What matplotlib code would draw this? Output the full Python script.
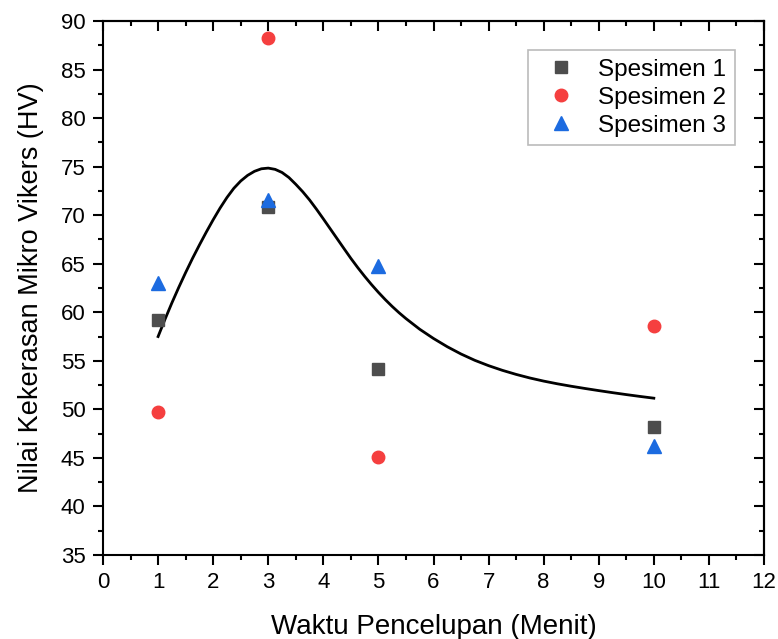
import numpy as np
import matplotlib.pyplot as plt
from matplotlib.ticker import MultipleLocator

plt.rcParams['font.family'] = ['Liberation Sans', 'DejaVu Sans']

# measured hardness per specimen
waktu = [1, 3, 5, 10]
spesimen_1 = [59.2, 70.8, 54.2, 48.2]
spesimen_2 = [49.7, 88.2, 45.1, 58.6]
spesimen_3 = [63.0, 71.6, 64.8, 46.2]

# fitted curve
fit_x = [1.0, 1.125, 1.25, 1.375, 1.5, 1.625, 1.75, 1.875, 2.0, 2.125, 2.25, 2.375,
         2.5, 2.625, 2.75, 2.875, 3.0, 3.125, 3.25, 3.375, 3.5, 3.625, 3.75, 3.875,
         4.0, 4.125, 4.25, 4.375, 4.5, 4.625, 4.75, 4.875, 5.0, 5.125, 5.25, 5.375,
         5.5, 5.75, 6.0, 6.25, 6.5, 6.75, 7.0, 7.25, 7.5, 7.75, 8.0, 8.25, 8.5,
         8.75, 9.0, 9.25, 9.5, 9.75, 10.0]
fit_y = [57.5, 59.27, 60.96, 62.56, 64.09, 65.55, 66.93, 68.26, 69.53, 70.73, 71.82, 72.77,
         73.52, 74.1, 74.52, 74.78, 74.85, 74.72, 74.4, 73.88, 73.18, 72.42, 71.57, 70.62,
         69.62, 68.6, 67.58, 66.56, 65.55, 64.6, 63.7, 62.85, 62.05, 61.3, 60.6, 59.95,
         59.35, 58.25, 57.3, 56.45, 55.7, 55.05, 54.5, 54.02, 53.6, 53.23, 52.91, 52.63, 52.38,
         52.15, 51.93, 51.72, 51.52, 51.33, 51.15]

fig = plt.figure(figsize=(7.78, 6.39), dpi=100)
ax = fig.add_axes([0.1324, 0.1315, 0.8496, 0.8356])

ax.plot(fit_x, fit_y, color='black', lw=2, zorder=2)
ax.plot(waktu, spesimen_1, 's', color='#4d4d4d', ms=8, ls='none', label='Spesimen 1', zorder=3)
ax.plot(waktu, spesimen_2, 'o', color='#f53f3f', ms=9, ls='none', label='Spesimen 2', zorder=3)
ax.plot(waktu, spesimen_3, '^', color='#1c6be0', ms=9.5, ls='none', label='Spesimen 3', zorder=3)

ax.set_xlim(0, 12)
ax.set_ylim(35, 90)
ax.xaxis.set_major_locator(MultipleLocator(1))
ax.xaxis.set_minor_locator(MultipleLocator(0.5))
ax.yaxis.set_major_locator(MultipleLocator(5))
ax.yaxis.set_minor_locator(MultipleLocator(2.5))
ax.tick_params(which='both', direction='out', width=1.5, labelsize=16, pad=5)
ax.tick_params(which='major', length=7.5)
ax.tick_params(which='minor', length=3.6)

# mirrored ticks on top / right point inward
top = ax.secondary_xaxis('top')
top.xaxis.set_major_locator(MultipleLocator(1))
top.xaxis.set_minor_locator(MultipleLocator(0.5))
top.tick_params(which='both', direction='in', width=1.5, labeltop=False)
top.tick_params(which='major', length=7.5)
top.tick_params(which='minor', length=3.6)
right = ax.secondary_yaxis('right')
right.yaxis.set_major_locator(MultipleLocator(5))
right.yaxis.set_minor_locator(MultipleLocator(2.5))
right.tick_params(which='both', direction='in', width=1.5, labelright=False)
right.tick_params(which='major', length=7.5)
right.tick_params(which='minor', length=3.6)

for a in [ax, top, right]:
    for s in a.spines.values():
        s.set_linewidth(1.5)

ax.set_xlabel('Waktu Pencelupan (Menit)', fontsize=20, labelpad=15)
ax.set_ylabel('Nilai Kekerasan Mikro Vikers (HV)', fontsize=19.5, labelpad=12)

leg = ax.legend(loc='upper right', fontsize=17.5, frameon=True, fancybox=False,
                edgecolor='#aaaaaa', borderaxespad=1.2, handletextpad=0.55,
                labelspacing=0.25, borderpad=0.35, handlelength=2.0)
leg.get_frame().set_linewidth(1.2)

fig.savefig('out.png', dpi=100)
